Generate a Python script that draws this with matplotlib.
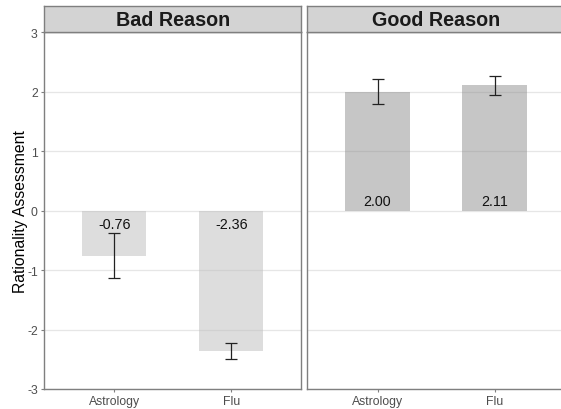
import matplotlib
matplotlib.use("Agg")
import matplotlib.pyplot as plt
import numpy as np

plt.rcParams['font.family'] = ['Liberation Sans', 'DejaVu Sans']
plt.rcParams['axes.unicode_minus'] = False

# data
panels = ["Bad Reason", "Good Reason"]
categories = ["Astrology", "Flu"]
means = {"Bad Reason": [-0.76, -2.36], "Good Reason": [2.00, 2.11]}
errors = {"Bad Reason": [0.38, 0.135], "Good Reason": [0.21, 0.16]}
bar_colors = {"Bad Reason": "#bdbdbd", "Good Reason": "#8e8e8e"}
yticks = [-3, -2, -1, 0, 1, 2, 3]

W, H = 561, 410
fig = plt.figure(figsize=(W / 100, H / 100), dpi=100)

border = "#7f7f7f"
panel_lefts = [44, 307.3]
panel_w = 257.5
panel_top, panel_bot = 33.3, 390
strip_top = 7

x = np.arange(1, len(categories) + 1)

for i, name in enumerate(panels):
    left = panel_lefts[i]
    ax = fig.add_axes([left / W, 1 - panel_bot / H, panel_w / W, (panel_bot - panel_top) / H])
    ax.set_xlim(0.4, 2.6)
    ax.set_ylim(-3, 3)
    ax.set_yticks(yticks)
    ax.grid(axis='y', color='#e6e6e6', linewidth=0.9, zorder=0)
    ax.set_axisbelow(True)

    vals = means[name]
    errs = errors[name]
    ax.bar(x, vals, width=0.55, color=bar_colors[name], alpha=0.5, zorder=2)
    ax.errorbar(x, vals, yerr=errs, fmt='none', ecolor='#222222',
                elinewidth=0.9, capsize=4.3, capthick=0.9, zorder=3)

    for xi, v in zip(x, vals):
        off = 7.2 if v > 0 else -9.4
        ax.annotate("%.2f" % v, (xi, 0), xytext=(0, off), textcoords='offset points',
                    ha='center', va='center', fontsize=10.3, color='#111111', zorder=4)

    ax.set_xticks(x)
    ax.set_xticklabels(categories)
    for s in ax.spines.values():
        s.set_color(border)
        s.set_linewidth(1.0)
    ax.tick_params(axis='both', colors=border, labelcolor='#4d4d4d', labelsize=8.8,
                   length=2.5, width=0.8, pad=2)
    if i == 0:
        ax.set_ylabel("Rationality Assessment", fontsize=11.3, color='black', labelpad=-1)
    else:
        ax.tick_params(axis='y', left=False, labelleft=False)

    # facet strip
    sax = fig.add_axes([left / W, 1 - panel_top / H, panel_w / W, (panel_top - strip_top) / H])
    sax.set_facecolor('#d3d3d3')
    sax.set_xticks([])
    sax.set_yticks([])
    for s in sax.spines.values():
        s.set_color(border)
        s.set_linewidth(1.0)
    sax.text(0.5, 0.5, name, ha='center', va='center', fontsize=14.2,
             fontweight='bold', color='#1a1a1a', transform=sax.transAxes)

fig.savefig("out.png", dpi=100)
